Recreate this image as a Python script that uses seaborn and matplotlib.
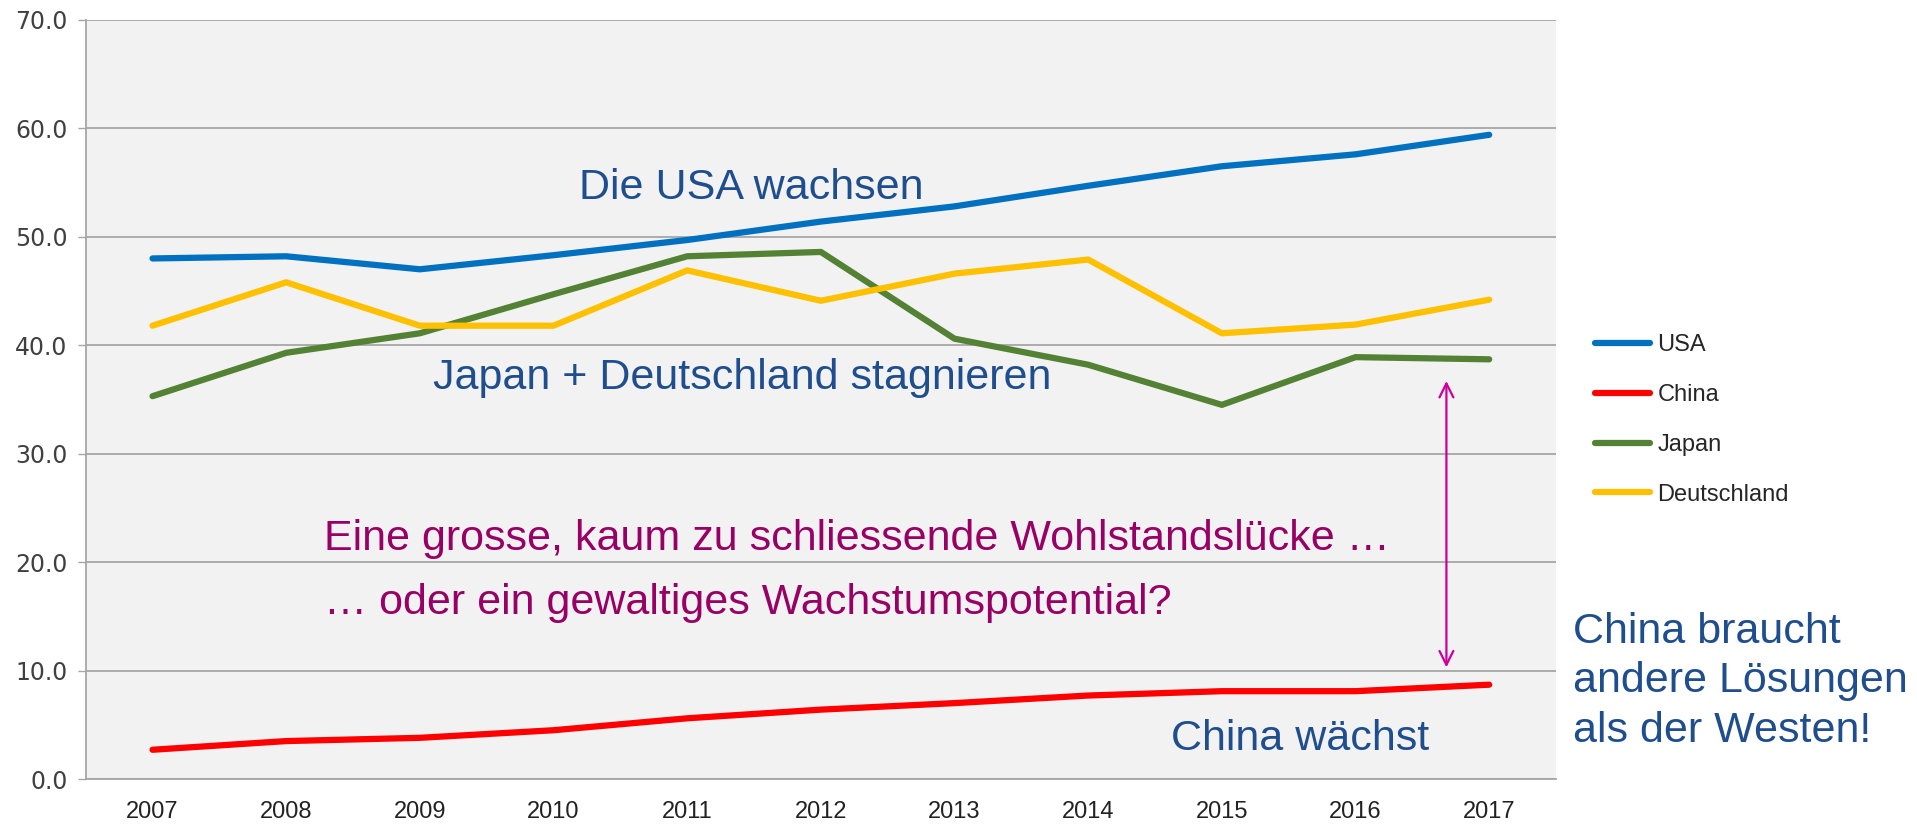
import matplotlib
matplotlib.use('Agg')

import matplotlib.pyplot as plt
import numpy as np
import pandas as pd
import seaborn as sns

# Daten
years = [2007, 2008, 2009, 2010, 2011, 2012, 2013, 2014, 2015, 2016, 2017]
usa = [48.0, 48.2, 47.0, 48.3, 49.7, 51.4, 52.8, 54.7, 56.5, 57.6, 59.4]
china = [2.7, 3.5, 3.8, 4.5, 5.6, 6.4, 7.0, 7.7, 8.1, 8.1, 8.7]
japan = [35.3, 39.3, 41.1, 44.7, 48.2, 48.6, 40.6, 38.2, 34.5, 38.9, 38.7]
deutschland = [41.8, 45.8, 41.8, 41.8, 46.9, 44.1, 46.6, 47.9, 41.1, 41.9, 44.2]
countries = ['USA', 'China', 'Japan', 'Deutschland']
colors = ['#0070C0', '#FF0000', '#548235', '#FFC000']
y_ticks = [0, 10, 20, 30, 40, 50, 60, 70]

df = pd.DataFrame({'Jahr': years, 'USA': usa, 'China': china,
                   'Japan': japan, 'Deutschland': deutschland})
df_long = df.melt(id_vars='Jahr', var_name='Land', value_name='Wert')

sns.set_style('white')
plt.rcParams['font.family'] = ['Liberation Sans', 'DejaVu Sans']

fig = plt.figure(figsize=(19.17, 8.27), dpi=100)
ax = fig.add_axes([0.0447, 0.058, 0.767, 0.918])
ax.set_facecolor('#F2F2F2')

sns.lineplot(data=df_long, x='Jahr', y='Wert', hue='Land', hue_order=countries,
             palette=colors, linewidth=4.5, ax=ax, legend=True)
for line in ax.get_lines():
    line.set_solid_capstyle('round')
    line.set_solid_joinstyle('round')

ax.set_xlim(years[0] - 0.5, years[-1] + 0.5)
ax.set_ylim(0, 70)
ax.set_xlabel('')
ax.set_ylabel('')

# Y-Achse
ax.set_yticks(y_ticks)
ax.set_yticklabels([f'{v:.1f}' for v in y_ticks], fontsize=17, color='#404040',
                   family=['DejaVu Sans'])
ax.grid(axis='y', color='#A6A6A6', linewidth=1.3)
ax.set_axisbelow(True)

# X-Achse: Striche zwischen den Jahren, Beschriftung in der Mitte
ax.set_xticks(np.arange(years[0] - 0.5, years[-1] + 1.0, 1.0))
ax.set_xticklabels([])
ax.set_xticks(years, minor=True)
ax.set_xticklabels([str(y) for y in years], minor=True, fontsize=17, color='#222222')
ax.tick_params(axis='x', which='major', length=9, width=1, color='#A6A6A6', direction='out')
ax.tick_params(axis='x', which='minor', length=0, pad=16)
ax.tick_params(axis='y', length=6, width=1, color='#A6A6A6', pad=7, direction='out', left=True)

for s in ['top', 'right']:
    ax.spines[s].set_visible(False)
for s in ['left', 'bottom']:
    ax.spines[s].set_color('#A6A6A6')
    ax.spines[s].set_linewidth(1.3)

# Legende
handles, labels = ax.get_legend_handles_labels()
leg = ax.legend(handles, labels, loc='upper left', bbox_to_anchor=(0.832, 0.596),
                bbox_transform=fig.transFigure, frameon=False, fontsize=17,
                handlelength=2.35, handletextpad=0.3, labelspacing=1.18,
                borderpad=0, borderaxespad=0)
for t in leg.get_texts():
    t.set_color('#262626')

# Texte
blue = '#1F4E8F'
purple = '#990066'
ax.text(2010.19, 54.5, 'Die USA wachsen', fontsize=31, color=blue, ha='left', va='center')
ax.text(2009.1, 37.0, 'Japan + Deutschland stagnieren', fontsize=31, color=blue, ha='left', va='center')
ax.text(2008.28, 22.1, 'Eine grosse, kaum zu schliessende Wohlstandslücke …',
        fontsize=31, color=purple, ha='left', va='center')
ax.text(2008.28, 16.2, '… oder ein gewaltiges Wachstumspotential?',
        fontsize=31, color=purple, ha='left', va='center')
ax.text(2014.62, 3.7, 'China wächst', fontsize=31, color=blue, ha='left', va='center')
fig.text(0.8207, 0.176, 'China braucht\nandere Lösungen\nals der Westen!', fontsize=31,
         color=blue, ha='left', va='center', linespacing=1.3)

# Pfeil
ax.annotate('', xy=(2016.68, 10.3), xytext=(2016.68, 36.7),
            arrowprops=dict(arrowstyle='<->', color='#CC0099', lw=1.6,
                            mutation_scale=25, shrinkA=0, shrinkB=0))

plt.savefig('out.png', dpi=100)
